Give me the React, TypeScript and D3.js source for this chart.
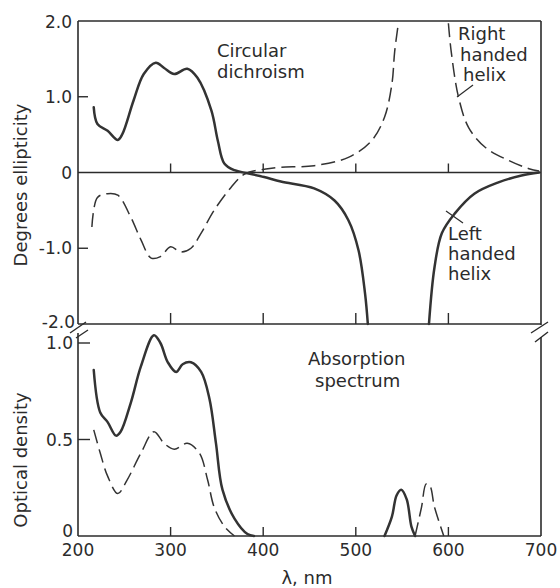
import React, { useRef, useEffect } from 'react';
import * as d3 from 'd3';

// circular dichroism, left handed helix (solid), two branches either side of the pole
const cdLeftNmA = [217, 221, 232, 243, 248, 260, 271, 284, 293, 304, 318, 329, 344, 351, 358, 369, 383, 401, 419, 455, 477, 492, 503, 510, 513];
const cdLeftA = [0.86, 0.64, 0.55, 0.43, 0.51, 0.95, 1.3, 1.45, 1.38, 1.3, 1.37, 1.25, 0.82, 0.42, 0.12, 0.03, -0.01, -0.06, -0.12, -0.21, -0.37, -0.63, -1.03, -1.6, -2.0];
const cdLeftNmB = [579, 585, 593, 607, 628, 654, 679, 698];
const cdLeftB = [-2.0, -1.25, -0.8, -0.54, -0.28, -0.13, -0.04, 0.0];

// circular dichroism, right handed helix (dashed)
const cdRightNmA = [215, 221, 232, 243, 257, 268, 279, 289, 300, 311, 322, 333, 347, 365, 380, 405, 419, 455, 492, 517, 531, 539, 542, 546];
const cdRightA = [-0.72, -0.33, -0.28, -0.3, -0.59, -0.89, -1.13, -1.11, -0.98, -1.05, -1.0, -0.8, -0.5, -0.2, -0.02, 0.05, 0.07, 0.09, 0.2, 0.42, 0.73, 1.17, 1.6, 1.97];
const cdRightNmB = [600, 603, 611, 622, 640, 665, 687, 698];
const cdRightB = [1.97, 1.6, 0.99, 0.59, 0.33, 0.16, 0.05, 0.02];

// absorption spectrum
const absSolidNm = [217, 224, 232, 241, 246, 257, 268, 282, 289, 297, 306, 313, 322, 333, 342, 349, 356, 369, 383, 390];
const absSolid = [0.86, 0.64, 0.59, 0.52, 0.54, 0.69, 0.88, 1.04, 1.0, 0.9, 0.85, 0.89, 0.9, 0.85, 0.71, 0.48, 0.24, 0.09, 0.01, 0];
const absDashNm = [217, 224, 232, 243, 253, 268, 282, 293, 304, 318, 331, 340, 347, 358, 369];
const absDash = [0.55, 0.43, 0.31, 0.22, 0.29, 0.43, 0.54, 0.48, 0.45, 0.48, 0.43, 0.29, 0.15, 0.05, 0];
const peakSolidNm = [531, 539, 544, 549, 555, 560, 564];
const peakSolid = [0, 0.1, 0.21, 0.24, 0.19, 0.05, 0];
const peakDashNm = [564, 571, 576, 580, 585, 595];
const peakDash = [0, 0.15, 0.27, 0.26, 0.15, 0];

const xTicks = [200, 300, 400, 500, 600, 700];
const cdTicks = [2, 1, 0, -1, -2];
const cdTickLabels = ['2.0', '1.0', '0', '-1.0', '-2.0'];
const odTicks = [1, 0.5, 0];
const odTickLabels = ['1.0', '0.5', '0'];

const FONT = 'DejaVu Sans';
const INK = '#2b2b2b';

const App = () => {
  const svgRef = useRef(null);
  useEffect(() => {
    const svg = d3.select(svgRef.current);
    svg.selectAll('*').remove();

    const x = d3.scaleLinear().domain([200, 700]).range([78, 541]);
    const yCd = d3.scaleLinear().domain([-2, 2]).range([324, 21]);
    const yOd = d3.scaleLinear().domain([0, 1]).range([536, 343]);
    const x0 = x(200), x1 = x(700);

    const zip = (a, b) => a.map((v, i) => [v, b[i]]);
    const lineCd = d3.line().x(d => x(d[0])).y(d => yCd(d[1])).curve(d3.curveCatmullRom.alpha(0.5));
    const lineOd = d3.line().x(d => x(d[0])).y(d => yOd(d[1])).curve(d3.curveCatmullRom.alpha(0.5));

    const g = svg.append('g');

    // frame of the top panel
    const ax = g.append('g').attr('stroke', INK).attr('stroke-width', 1.6).attr('fill', 'none');
    ax.append('line').attr('x1', x0).attr('x2', x1).attr('y1', yCd(2)).attr('y2', yCd(2));
    ax.append('line').attr('x1', x0).attr('x2', x1).attr('y1', yCd(0)).attr('y2', yCd(0));
    ax.append('line').attr('x1', x0).attr('x2', x1).attr('y1', yCd(-2)).attr('y2', yCd(-2));
    ax.append('line').attr('x1', x0).attr('x2', x0).attr('y1', yCd(2)).attr('y2', yCd(-2));
    ax.append('line').attr('x1', x1).attr('x2', x1).attr('y1', yCd(2)).attr('y2', yCd(-2) + 1);
    // frame of the bottom panel
    ax.append('line').attr('x1', x0).attr('x2', x0).attr('y1', 333).attr('y2', yOd(0));
    ax.append('line').attr('x1', x1).attr('x2', x1).attr('y1', 337).attr('y2', yOd(0));
    ax.append('line').attr('x1', x0).attr('x2', x1).attr('y1', yOd(0)).attr('y2', yOd(0));

    // axis break marks
    const brk = g.append('g').attr('stroke', INK).attr('stroke-width', 1.4);
    brk.append('line').attr('x1', x0 - 8).attr('y1', 333).attr('x2', x0 + 8).attr('y2', 322);
    brk.append('line').attr('x1', x0 - 2).attr('y1', 338).attr('x2', x0 + 10).attr('y2', 330);
    brk.append('line').attr('x1', x1 - 10).attr('y1', 333).attr('x2', x1 + 7).attr('y2', 322);
    brk.append('line').attr('x1', x1 - 6).attr('y1', 342).attr('x2', x1 + 7).attr('y2', 332);

    // inward ticks
    const inner = xTicks.filter(t => t > 200 && t < 700);
    const tk = g.append('g').attr('stroke', INK).attr('stroke-width', 1.4);
    [[yCd(0), 9], [yCd(-2), 11], [yOd(0), 9]].forEach(([yy, len]) => {
      inner.forEach(t => {
        tk.append('line').attr('x1', x(t)).attr('x2', x(t)).attr('y1', yy).attr('y2', yy - len);
      });
    });
    [1, -1].forEach(v => tk.append('line').attr('x1', x0).attr('x2', x0 + 10).attr('y1', yCd(v)).attr('y2', yCd(v)));
    [1, 0.5].forEach(v => tk.append('line').attr('x1', x0).attr('x2', x0 + 12).attr('y1', yOd(v)).attr('y2', yOd(v)));

    // tick labels
    const txt = g.append('g').attr('font-family', FONT).attr('fill', INK);
    txt.selectAll('.xl').data(xTicks).join('text')
      .attr('x', d => x(d)).attr('y', 556).attr('text-anchor', 'middle').attr('font-size', 17)
      .text(d => d);
    txt.selectAll('.cdl').data(cdTicks).join('text')
      .attr('x', (d, i) => (i === 4 ? 75 : 72)).attr('y', d => yCd(d) + (d === -2 ? 4 : 6) + (d === 2 ? 1 : 0))
      .attr('text-anchor', 'end').attr('font-size', 17)
      .text((d, i) => cdTickLabels[i]);
    txt.selectAll('.odl').data(odTicks).join('text')
      .attr('x', 73).attr('y', d => (d === 0 ? yOd(0) + 1 : yOd(d) + 6))
      .attr('text-anchor', 'end').attr('font-size', 17)
      .text((d, i) => odTickLabels[i]);

    // axis titles
    txt.append('text').attr('transform', 'translate(27,185) rotate(-90)').attr('text-anchor', 'middle')
      .attr('font-size', 18).text('Degrees ellipticity');
    txt.append('text').attr('transform', 'translate(27,460) rotate(-90)').attr('text-anchor', 'middle')
      .attr('font-size', 18).text('Optical density');
    txt.append('text').attr('x', 307).attr('y', 584).attr('text-anchor', 'middle')
      .attr('font-size', 18).text('λ, nm');

    // annotations
    const note = (lines, xs, ys) => lines.forEach((s, i) => {
      txt.append('text').attr('x', xs[i]).attr('y', ys[i]).attr('font-size', 18).text(s);
    });
    note(['Circular', 'dichroism'], [217, 217], [57, 78]);
    note(['Right', 'handed', 'helix'], [458, 460, 463], [40, 61, 81]);
    note(['Left', 'handed', 'helix'], [448, 448, 448], [240, 260, 280]);
    note(['Absorption', 'spectrum'], [308, 315], [365, 387]);
    const lead = g.append('g').attr('stroke', INK).attr('stroke-width', 1.2);
    lead.append('line').attr('x1', 473).attr('y1', 85).attr('x2', 457).attr('y2', 97);
    lead.append('line').attr('x1', 446).attr('y1', 211).attr('x2', 463).attr('y2', 223);

    // curves
    const solid = g.append('g').attr('fill', 'none').attr('stroke', '#333').attr('stroke-width', 2.5)
      .attr('stroke-linejoin', 'round').attr('stroke-linecap', 'round');
    const dashed = g.append('g').attr('fill', 'none').attr('stroke', '#333').attr('stroke-width', 1.5)
      .attr('stroke-dasharray', '14,6');
    solid.append('path').attr('d', lineCd(zip(cdLeftNmA, cdLeftA)));
    solid.append('path').attr('d', lineCd(zip(cdLeftNmB, cdLeftB)));
    dashed.append('path').attr('d', lineCd(zip(cdRightNmA, cdRightA)));
    dashed.append('path').attr('d', lineCd(zip(cdRightNmB, cdRightB)));
    solid.append('path').attr('d', lineOd(zip(absSolidNm, absSolid)));
    solid.append('path').attr('d', lineOd(zip(peakSolidNm, peakSolid)));
    dashed.append('path').attr('d', lineOd(zip(absDashNm, absDash)));
    dashed.append('path').attr('d', lineOd(zip(peakDashNm, peakDash)));

    return () => {
      svg.selectAll('*').remove();
    };
  }, []);
  return (
    <svg ref={svgRef} width={560} height={588}
      style={{ position: 'absolute', left: 0, top: 0, background: '#fff' }}></svg>
  );
};
export default App;
